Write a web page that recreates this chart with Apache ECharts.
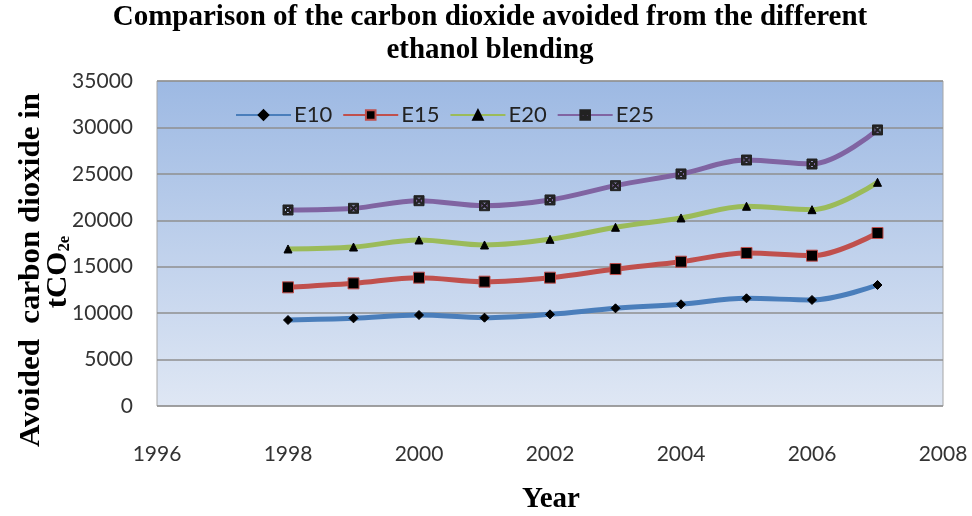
<!DOCTYPE html>
<html>
<head>
<meta charset="utf-8">
<script src="https://cdn.jsdelivr.net/npm/echarts@6/dist/echarts.min.js"></script>
<style>
  html, body { margin: 0; padding: 0; background: #fff; }
  #chart { width: 972px; height: 516px; }
</style>
</head>
<body>
<div id="chart"></div>
<script>
// Avoided CO2 (tCO2e) per blending level, 1998-2007
const years = [1998, 1999, 2000, 2001, 2002, 2003, 2004, 2005, 2006, 2007];
const e10 = [9260, 9440, 9800, 9510, 9870, 10520, 10950, 11600, 11420, 13030];
const e15 = [12780, 13210, 13820, 13390, 13820, 14750, 15540, 16480, 16190, 18630];
const e20 = [16910, 17120, 17880, 17340, 17950, 19250, 20250, 21510, 21140, 24090];
const e25 = [21110, 21290, 22110, 21570, 22190, 23730, 24990, 26490, 26060, 29730];
const seriesNames = ['E10', 'E15', 'E20', 'E25'];
const yTicks = { min: 0, max: 35000, step: 5000 };
const xTicks = { min: 1996, max: 2008, step: 2 };

const titleText = 'Comparison of the carbon dioxide avoided from the different\nethanol blending';
const yTitleText = 'Avoided  carbon dioxide in';
const xTitleText = 'Year';

// square with an X cut through it
const boxCross = 'path://M0,0L10,0L10,10L0,10Z M1.5,1.5L1.5,8.5L8.5,8.5L8.5,1.5Z ' +
  'M1.5,2.5L2.5,1.5L8.5,7.5L7.5,8.5Z M7.5,1.5L8.5,2.5L2.5,8.5L1.5,7.5Z';

const styles = [
  { color: '#4a7ebb', symbol: 'diamond', size: 9, fill: '#000', border: '#000' },
  { color: '#c0504d', symbol: 'rect', size: 11, fill: '#000', border: '#c0504d' },
  { color: '#9bbb59', symbol: 'triangle', size: 8, fill: '#000', border: '#000' },
  { color: '#8064a2', symbol: boxCross, size: 10, fill: '#222', border: '#222' }
];
const values = [e10, e15, e20, e25];

const serif = 'Liberation Serif';

const chart = echarts.init(document.getElementById('chart'), null, { renderer: 'canvas' });

const series = seriesNames.map((name, i) => ({
  name: name,
  type: 'line',
  smooth: 0.35,
  data: years.map((y, k) => [y, values[i][k]]),
  symbol: styles[i].symbol,
  symbolSize: styles[i].size,
  lineStyle: { color: styles[i].color, width: 5 },
  itemStyle: { color: styles[i].fill, borderColor: styles[i].border, borderWidth: 1 },
  emphasis: { disabled: true },
  z: 3 + i
}));

const option = {
  animation: false,
  legend: {
    data: seriesNames,
    left: 230,
    top: 99,
    itemWidth: 55,
    itemHeight: 12,
    itemGap: 10,
    textStyle: { fontFamily: 'Lato', fontSize: 22, color: '#222', padding: [0, 0, 0, -2] }
  },
  grid: {
    left: 157,
    right: 29,
    top: 81,
    bottom: 110,
    outerBoundsMode: 'none',
    containLabel: false,
    show: true,
    borderColor: '#a6a6a6',
    borderWidth: 1,
    backgroundColor: new echarts.graphic.LinearGradient(0, 0, 0, 1, [
      { offset: 0, color: '#9db9e3' },
      { offset: 1, color: '#dfe7f4' }
    ])
  },
  xAxis: {
    type: 'value',
    min: xTicks.min,
    max: xTicks.max,
    interval: xTicks.step,
    axisLine: { show: false },
    axisTick: { show: false },
    splitLine: { show: false },
    axisLabel: {
      margin: 38,
      fontFamily: 'Lato',
      fontSize: 21,
      color: '#333',
      formatter: v => String(v)
    }
  },
  yAxis: {
    type: 'value',
    min: yTicks.min,
    max: yTicks.max,
    interval: yTicks.step,
    axisLine: { show: false },
    axisTick: { show: false },
    splitLine: { show: true, lineStyle: { color: '#8f8f8f', width: 1.5 } },
    axisLabel: {
      margin: 24,
      fontFamily: 'Lato',
      fontSize: 21,
      color: '#333',
      formatter: v => String(v)
    }
  },
  graphic: [
    {
      // chart title
      type: 'text',
      x: 490,
      y: 1,
      style: {
        text: titleText,
        fontFamily: serif,
        fontWeight: 'bold',
        fontSize: 29,
        lineHeight: 33,
        fill: '#000',
        align: 'center',
        verticalAlign: 'top'
      }
    },
    {
      // x axis title
      type: 'text',
      x: 551,
      y: 500,
      style: {
        text: xTitleText,
        fontFamily: serif,
        fontWeight: 'bold',
        fontSize: 29,
        fill: '#000',
        align: 'center',
        verticalAlign: 'middle'
      }
    },
    {
      // y axis title, first line
      type: 'text',
      x: 31,
      y: 270,
      rotation: Math.PI / 2,
      scaleX: 1.05,
      style: {
        text: yTitleText,
        fontFamily: serif,
        fontWeight: 'bold',
        fontSize: 29.5,
        fill: '#000',
        align: 'center',
        verticalAlign: 'middle'
      }
    },
    {
      // y axis title, unit line
      type: 'text',
      x: 58,
      y: 272,
      rotation: Math.PI / 2,
      scaleX: 1.05,
      style: {
        text: '{m|tCO}{s|2e}',
        align: 'center',
        verticalAlign: 'middle',
        rich: {
          m: { fontFamily: serif, fontWeight: 'bold', fontSize: 29.5, fill: '#000' },
          s: { fontFamily: serif, fontWeight: 'bold', fontSize: 16, fill: '#000', verticalAlign: 'bottom', padding: [11, 0, 0, 0] }
        }
      }
    }
  ],
  series: series
};

chart.setOption(option);
</script>
</body>
</html>
